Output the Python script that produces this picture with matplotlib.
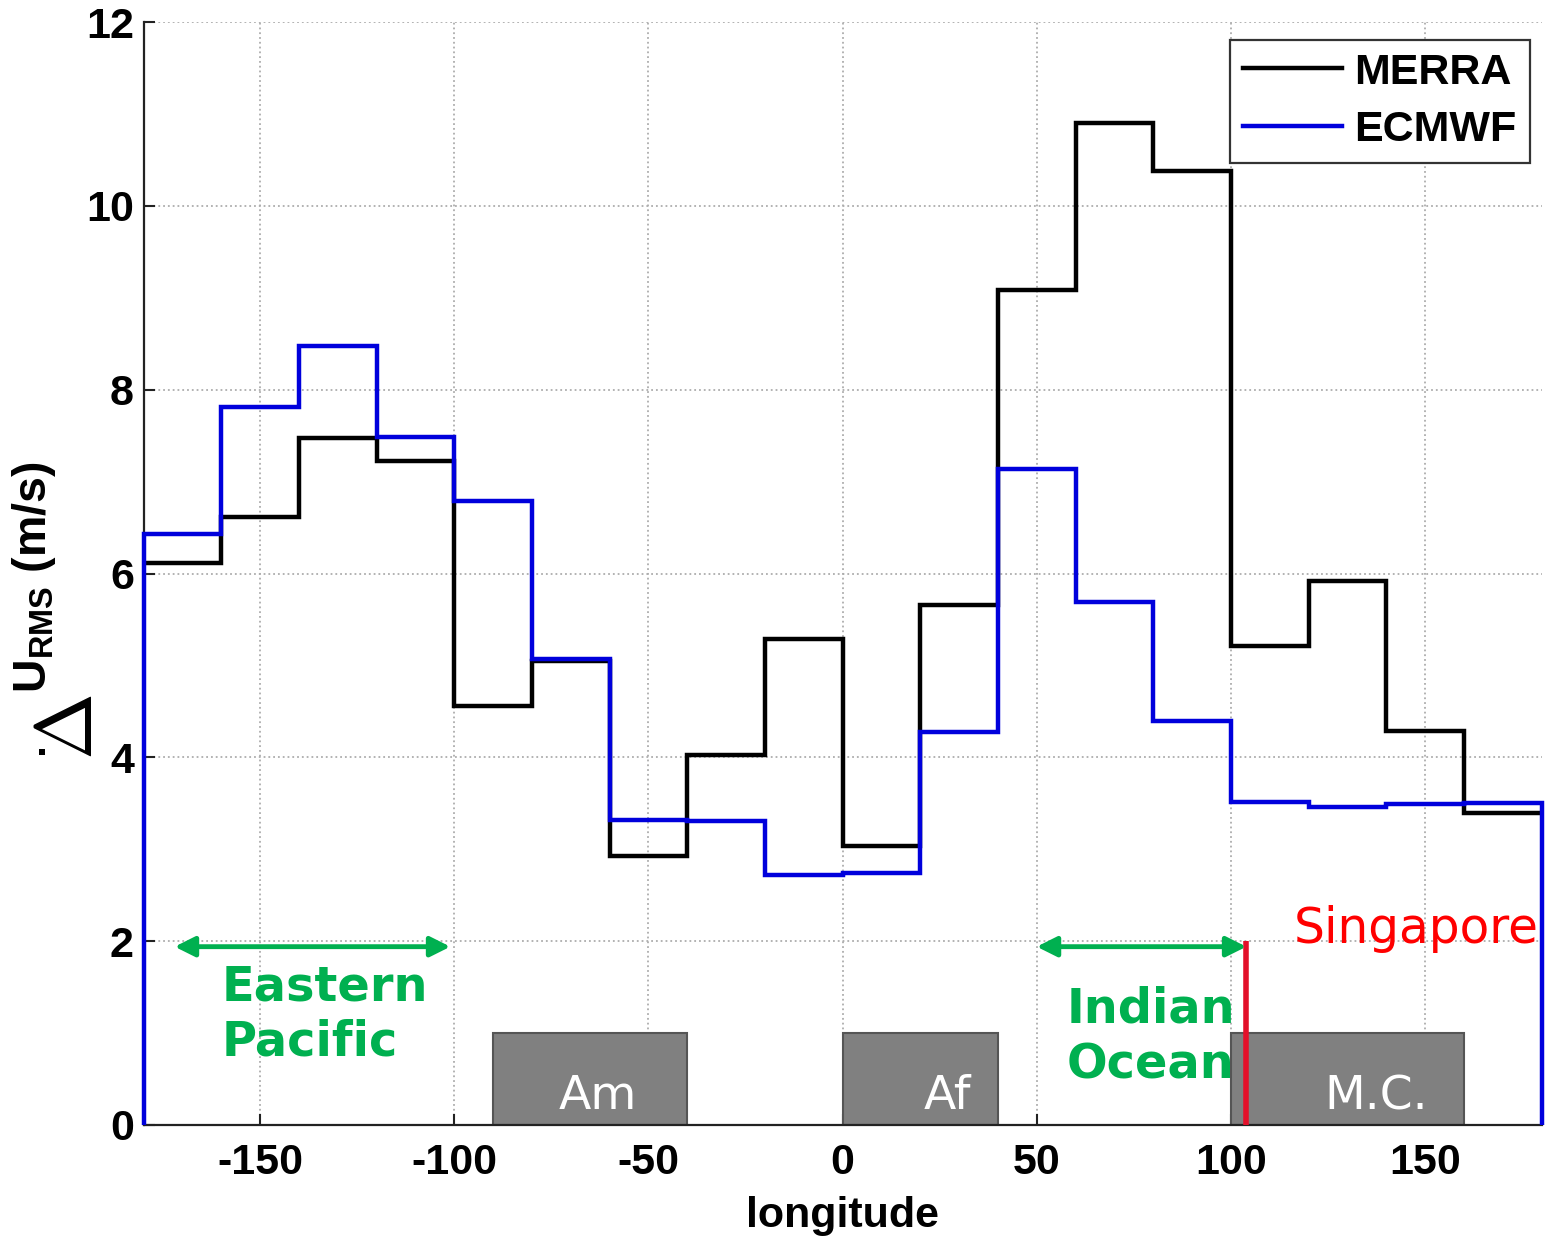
import matplotlib
matplotlib.use("Agg")
import matplotlib.pyplot as plt
from matplotlib.patches import Rectangle
from matplotlib.lines import Line2D

# Longitude bins (20 degree wide) and RMS wind values per bin
lon_edges = [-180, -160, -140, -120, -100, -80, -60, -40, -20, 0,
             20, 40, 60, 80, 100, 120, 140, 160, 180]
merra = [6.11, 6.61, 7.47, 7.22, 4.56, 5.05, 2.93, 4.03, 5.29,
         3.03, 5.66, 9.08, 10.90, 10.38, 5.21, 5.92, 4.29, 3.39]
ecmwf = [6.43, 7.81, 8.47, 7.48, 6.79, 5.07, 3.32, 3.31, 2.72,
         2.74, 4.28, 7.14, 5.69, 4.39, 3.51, 3.46, 3.49, 3.50]

series_names = ["MERRA", "ECMWF"]

# Land regions shown as grey boxes: (label, west, east, height)
regions = [("Am", -90, -40, 1.0), ("Af", 0, 40, 1.0), ("M.C.", 100, 160, 1.0)]
region_label_x = [-73, 21, 124]

# Ocean basins marked with double arrows: (west, east)
pacific_span = (-172, -101)
indian_span = (50, 104)
singapore_lon = 104
singapore_top = 2.0

xticks = [-150, -100, -50, 0, 50, 100, 150]
yticks = [0, 2, 4, 6, 8, 10, 12]

plt.rcParams["axes.unicode_minus"] = False
plt.rcParams["mathtext.fontset"] = "custom"
plt.rcParams["mathtext.bf"] = "Liberation Sans:bold"
plt.rcParams["mathtext.rm"] = "Liberation Sans"

TICK_FONT = dict(family="Liberation Sans", weight="bold", size=31)
GREEN = "#00b050"
BLUE = "#0000dc"

W, H = 1547, 1239
fig = plt.figure(figsize=(W / 100, H / 100), dpi=100)
x0, x1 = 143.6, 1541.5
y0, y1 = 1125, 22
ax = fig.add_axes([x0 / W, 1 - y0 / H, (x1 - x0) / W, (y0 - y1) / H])

ax.set_xlim(-180, 180)
ax.set_ylim(0, 12)

# grid
ax.set_xticks(xticks)
ax.set_yticks(yticks)
ax.grid(True, linestyle=":", color="#adadad", linewidth=1.3)
ax.set_axisbelow(True)

for s in ("top", "right"):
    ax.spines[s].set_visible(False)
for s in ("left", "bottom"):
    ax.spines[s].set_linewidth(1.6)
    ax.spines[s].set_color("#222222")

ax.tick_params(direction="in", length=8, width=1.5, color="#222222")
ax.tick_params(axis="x", pad=13)
ax.tick_params(axis="y", pad=7)
ax.set_xticklabels([str(v) for v in xticks], fontdict=TICK_FONT)
ax.set_yticklabels([str(v) for v in yticks], fontdict=TICK_FONT)

ax.set_xlabel("longitude", fontdict=TICK_FONT, labelpad=9)

# region boxes
for (name, w, e, h), lx in zip(regions, region_label_x):
    ax.add_patch(Rectangle((w, 0), e - w, h, facecolor="#808080",
                           edgecolor="#555555", linewidth=1.5, zorder=2))
    ax.text(lx, 0.17, name, color="white", fontsize=34,
            family="DejaVu Sans", ha="left", va="baseline", zorder=3)

# step curves
ax.stairs(merra, lon_edges, color="black", linewidth=3.2, baseline=None,
          zorder=4, clip_on=False)
ax.stairs(ecmwf, lon_edges, color=BLUE, linewidth=3.2, baseline=0,
          zorder=5, clip_on=False)

# Singapore marker
ax.plot([singapore_lon, singapore_lon], [0, singapore_top], color="#e3102a",
        linewidth=4, zorder=6, solid_capstyle="butt")
ax.text(116.3, 1.98, "Singapore", color="#ff0000", fontsize=35,
        family="DejaVu Sans", ha="left", va="baseline", zorder=7)

# basin arrows and labels
arrow_kw = dict(arrowstyle="<|-|>", color=GREEN, lw=3.5, mutation_scale=30,
                shrinkA=0, shrinkB=0)
ax.annotate("", xy=(pacific_span[1], 1.94), xytext=(pacific_span[0], 1.94),
            arrowprops=arrow_kw, zorder=7)
ax.annotate("", xy=(indian_span[1], 1.94), xytext=(indian_span[0], 1.94),
            arrowprops=arrow_kw, zorder=7)

green_font = dict(color=GREEN, fontsize=34.5, family="DejaVu Sans",
                  weight="bold", ha="left", va="baseline", zorder=7)
ax.text(-160, 1.35, "Eastern", **green_font)
ax.text(-160, 0.76, "Pacific", **green_font)
ax.text(57.8, 1.12, "Indian", **green_font)
ax.text(57.8, 0.51, "Ocean", **green_font)

# legend
handles = [Line2D([], [], color="black", linewidth=3.2),
           Line2D([], [], color=BLUE, linewidth=3.2)]
leg = ax.legend(handles, series_names, loc="upper right",
                bbox_to_anchor=(0.9915, 0.984), prop=dict(family="Liberation Sans",
                weight="bold", size=31), fancybox=False, framealpha=1,
                edgecolor="#333333", handlelength=2.3, handletextpad=0.3,
                borderpad=0.3, labelspacing=0.4, borderaxespad=0)
leg.get_frame().set_linewidth(1.6)

# y-axis label
fig.text(34 / W, 1 - 577 / H, r"$\mathbf{U}_{\mathbf{RMS}}$ (m/s)",
         rotation=90, ha="center", va="center", family="Liberation Sans",
         weight="bold", fontsize=33.5)
fig.text(70 / W, 1 - 727 / H, r"$\Delta$", rotation=90, ha="center",
         va="center", fontsize=58, math_fontfamily="cm")
fig.add_artist(Rectangle((39 / W, 1 - 755 / H), 6 / W, 6 / H,
                         transform=fig.transFigure, facecolor="black",
                         edgecolor="none"))

fig.savefig("out.png", dpi=100)
